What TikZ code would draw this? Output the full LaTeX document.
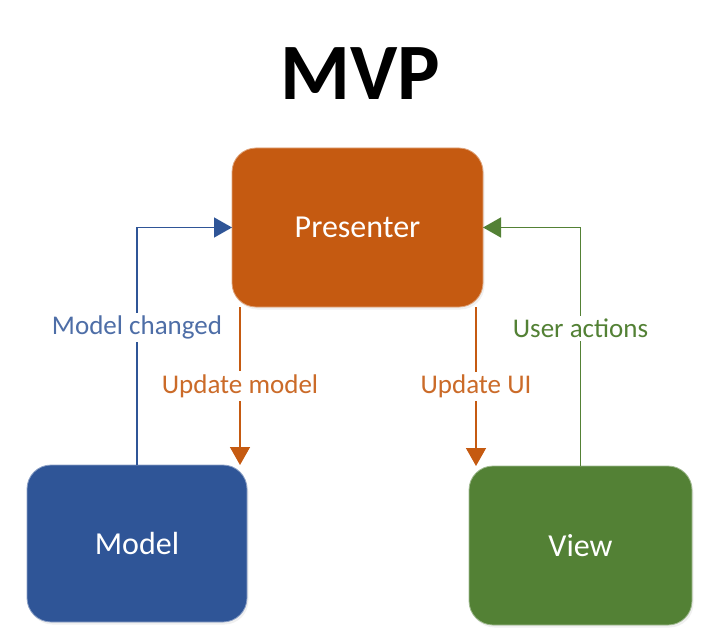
\documentclass[tikz,border=0pt]{standalone}
\usepackage{fontspec}
\setmainfont{Carlito}
\usetikzlibrary{arrows.meta,shadows}
\definecolor{porange}{HTML}{C55A11}
\definecolor{mblue}{HTML}{2F5597}
\definecolor{vgreen}{HTML}{538135}
\begin{document}
\begin{tikzpicture}[x=1pt,y=-1pt,
  box/.style={rounded corners=24pt, inner sep=0pt, outer sep=0pt, text=white,
    font=\fontsize{32}{38}\selectfont, line width=0.8pt,
    drop shadow={opacity=0.12, shadow xshift=1.5pt, shadow yshift=-2.5pt}},
  conn/.style={line width=1.5pt, -{Triangle[length=18pt,width=20pt]}},
  lbl/.style={fill=white, inner sep=3pt, font=\fontsize{27}{32}\selectfont}]
\useasboundingbox (0,0) rectangle (701,636);
\node[font=\fontsize{80}{90}\selectfont\bfseries, anchor=base] (title) at (360,100) {MVP};
\node[box, fill=porange, draw=porange!55!white, minimum width=251pt, minimum height=159pt] (presenter) at (357.5,227.5) {Presenter};
\node[box, fill=mblue, draw=mblue!55!white, minimum width=220pt, minimum height=157pt] (model) at (137,543.5) {Model};
\node[box, fill=vgreen, draw=vgreen!55!white, minimum width=223pt, minimum height=159pt] (view) at (580.5,545.5) {View};
% Model changed
\draw[conn, mblue] (model.north) |- (presenter.west)
  node[lbl, text=mblue!85!white, pos=0.29] (lmc) {Model changed};
% User actions
\draw[conn, vgreen] (view.north) |- (presenter.east)
  node[lbl, text=vgreen, pos=0.288] (lua) {User actions};
% Update model
\draw[conn, porange] ([xshift=8pt]presenter.south west) -- ([xshift=8pt]presenter.south west |- model.north)
  node[lbl, text=porange!90!white, midway] (lum) {Update model};
% Update UI
\draw[conn, porange] ([xshift=-7pt]presenter.south east) -- ([xshift=-7pt]presenter.south east |- view.north)
  node[lbl, text=porange!90!white, midway] (lui) {Update UI};
\end{tikzpicture}
\end{document}
